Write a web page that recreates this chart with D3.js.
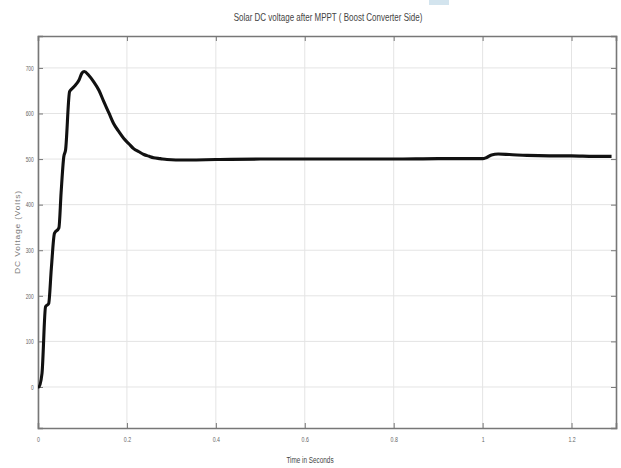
<!DOCTYPE html>
<html>
<head>
<meta charset="utf-8">
<script src="https://cdn.jsdelivr.net/npm/d3@7"></script>
<style>
  body { margin: 0; background: #fff; }
  text { font-family: "Liberation Sans", Arial, sans-serif; }
</style>
</head>
<body>
<div id="chart"></div>
<script>
// chart size
const width = 621;
const height = 468;

// plot box (MATLAB style)
const boxLeft = 38, boxRight = 616, boxTop = 36, boxBottom = 428;

// data
const timeS = [0, 0.002, 0.009, 0.017, 0.024, 0.030, 0.037, 0.047, 0.052, 0.058,
  0.062, 0.071, 0.077, 0.084, 0.092, 0.099, 0.104, 0.114, 0.125, 0.137,
  0.148, 0.160, 0.170, 0.182, 0.193, 0.205, 0.215, 0.227, 0.238, 0.250,
  0.260, 0.275, 0.290, 0.310, 0.340, 0.400, 0.500, 0.600, 0.700, 0.800,
  0.900, 1.000, 1.008, 1.020, 1.035, 1.060, 1.100, 1.150, 1.200, 1.250, 1.290];
const voltage = [0, 0, 30, 176, 183, 260, 337, 349, 427, 505,
  520, 648, 655, 662, 673, 689, 692, 684, 670, 651,
  626, 600, 578, 560, 545, 533, 523, 516, 510, 506,
  503, 501, 499, 498, 498, 499, 500, 500, 500, 500,
  501, 501, 503, 509, 511, 510, 508, 507, 507, 506, 506];

// ticks
const xTicks = [0, 0.2, 0.4, 0.6, 0.8, 1, 1.2];
const yTicks = [0, 100, 200, 300, 400, 500, 600, 700];

const titleText = "Solar DC voltage after MPPT ( Boost Converter Side)";
const xLabel = "Time in Seconds";
const yLabel = "DC Voltage (Volts)";

const svg = d3.select("#chart")
  .append("svg")
  .attr("width", width)
  .attr("height", height);

const x = d3.scaleLinear().domain([0, 1.3]).range([boxLeft, boxRight]);
const y = d3.scaleLinear().domain([-90, 770]).range([boxBottom, boxTop]);

// small blue mark at the top of the picture
svg.append("rect")
  .attr("x", 429).attr("y", 0)
  .attr("width", 20).attr("height", 5)
  .attr("fill", "#d3e4ee");

// grid
svg.append("g")
  .selectAll("line")
  .data(xTicks)
  .enter()
  .append("line")
  .attr("x1", d => x(d)).attr("x2", d => x(d))
  .attr("y1", boxTop).attr("y2", boxBottom)
  .attr("stroke", "#e4e4e4")
  .attr("stroke-width", 1);

svg.append("g")
  .selectAll("line")
  .data(yTicks)
  .enter()
  .append("line")
  .attr("x1", boxLeft).attr("x2", boxRight)
  .attr("y1", d => y(d)).attr("y2", d => y(d))
  .attr("stroke", "#e4e4e4")
  .attr("stroke-width", 1);

// axes, ticks pointing inwards
const xAxis = svg.append("g")
  .attr("transform", `translate(0,${boxBottom})`)
  .call(d3.axisBottom(x).tickValues(xTicks).tickSize(-5).tickPadding(9)
    .tickFormat(d3.format("~g")));

const xAxisTop = svg.append("g")
  .attr("transform", `translate(0,${boxTop})`)
  .call(d3.axisTop(x).tickValues(xTicks).tickSize(-5).tickFormat(""));

const yAxis = svg.append("g")
  .attr("transform", `translate(${boxLeft},0)`)
  .call(d3.axisLeft(y).tickValues(yTicks).tickSize(-5).tickPadding(6));

const yAxisRight = svg.append("g")
  .attr("transform", `translate(${boxRight},0)`)
  .call(d3.axisRight(y).tickValues(yTicks).tickSize(-5).tickFormat(""));

[xAxis, xAxisTop, yAxis, yAxisRight].forEach(g => {
  g.select(".domain").attr("stroke", "#777").attr("stroke-width", 1.6);
  g.selectAll(".tick line").attr("stroke", "#777");
  g.selectAll(".tick text").attr("fill", "#666").attr("font-size", "7px");
});
// squeeze tick labels, the original font is a narrow one
xAxis.selectAll(".tick text").attr("transform", "scale(0.75,1)");
yAxis.selectAll(".tick text").attr("transform", "scale(0.7,1)");

// the voltage curve
const line = d3.line()
  .x((d, i) => x(timeS[i]))
  .y(d => y(d))
  .curve(d3.curveMonotoneX);

svg.append("path")
  .datum(voltage)
  .attr("d", line)
  .attr("fill", "none")
  .attr("stroke", "#111")
  .attr("stroke-width", 3.1)
  .attr("stroke-linejoin", "round");

// texts
svg.append("text")
  .attr("transform", "translate(328,21) scale(0.8,1)")
  .attr("text-anchor", "middle")
  .attr("font-size", "10px")
  .attr("fill", "#444")
  .text(titleText);

svg.append("text")
  .attr("transform", "translate(310,463) scale(0.75,1)")
  .attr("text-anchor", "middle")
  .attr("font-size", "8.5px")
  .attr("fill", "#444")
  .text(xLabel);

svg.append("text")
  .attr("transform", `translate(20,232) rotate(-90) scale(1,0.8)`)
  .attr("text-anchor", "middle")
  .attr("font-size", "8.5px")
  .attr("fill", "#777")
  .attr("letter-spacing", "0.8px")
  .text(yLabel);
</script>
</body>
</html>
